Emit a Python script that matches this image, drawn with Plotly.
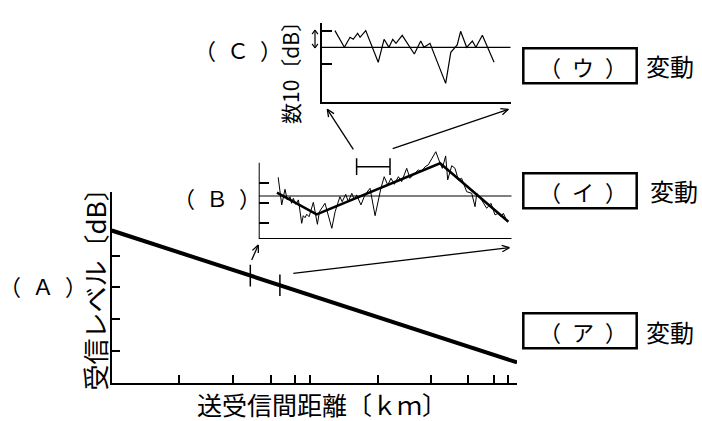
import math
import numpy as np
import plotly.graph_objects as go

W, H = 702, 421
FONT = "Noto Sans CJK JP"

# ---------------- data ----------------
# main panel (A): received level vs distance (schematic, arbitrary units)
main_dist = [0, 100]
main_level = [4.785, 0.65]
main_xticks = [16.5, 29.9, 39.3, 45.2, 48.9, 65.7, 78.8, 87.9, 94.3, 97.8]
main_yticks = [1, 2, 3, 4]
b_window = [34.2, 41.5]          # stretch of (A) magnified in (B)

# panel (B): short-interval variation
b_x = [7.7, 9.1, 10.4, 11.3, 12.4, 13.0, 13.7, 14.6, 15.7, 17.0, 17.6, 18.3, 19.0, 19.9,
       21.6, 23.2, 24.0, 26.2, 28.9, 30.2, 32.1, 33.0, 34.4, 35.4, 36.8, 37.8, 38.7, 40.4,
       42.0, 44.0, 46.0, 48.3, 49.6, 51.0, 52.3, 53.6, 55.2, 56.5, 58.5, 59.8, 61.1, 63.1,
       64.2, 65.8, 67.0, 70.0, 71.7, 72.6, 73.9, 74.7, 76.3, 77.6, 78.9, 80.2, 82.2, 84.2,
       85.5, 86.2, 88.1, 90.1, 91.8, 93.4, 94.7, 95.8, 96.7, 97.6]
b_y = [33.0, 19.2, 27.0, 21.7, 23.3, 20.0, 22.5, 19.5, 21.7, 10.0, 13.8, 12.8, 14.5, 13.3,
       20.5, 9.5, 15.8, 20.0, 7.5, 15.8, 23.3, 20.8, 24.5, 20.8, 25.0, 21.7, 24.2, 19.2,
       24.2, 27.5, 13.8, 27.5, 33.3, 29.2, 32.5, 29.5, 33.3, 30.8, 37.5, 32.5, 34.2, 36.7,
       35.8, 38.3, 39.2, 45.8, 40.0, 37.5, 43.7, 31.7, 38.8, 37.5, 31.7, 32.5, 25.8, 25.0,
       18.3, 25.0, 21.7, 17.5, 20.0, 14.2, 15.0, 13.3, 15.0, 12.5]
b_trend_x = [7.2, 22.9, 71.7, 98.7]
b_trend_y = [25.3, 14.5, 40.0, 10.8]
b_ref = 23.65
b_yticks = [10, 20, 30]
c_window = [38.7, 51.9]          # stretch of (B) magnified in (C)
c_window_level = 38.3

# panel (C): fast fading
c_x = [7.0, 12.0, 15.0, 16.7, 19.0, 20.3, 23.3, 29.9, 33.0, 35.6, 37.6, 39.3, 42.6,
       49.0, 52.4, 54.1, 57.3, 65.6, 68.3, 71.7, 73.5, 76.7, 79.7, 81.6, 85.0, 91.2]
c_y = [10.0, 0.0, 6.0, 4.8, 8.4, 6.0, 10.0, -9.0, 4.8, 0.0, 4.8, 2.4, 7.2,
       -4.0, 3.8, 0.0, 2.4, -21.6, -3.0, 1.4, 9.6, 0.0, 3.8, 0.0, 7.2, -9.0]
c_ref = 0
c_yticks = [-10, 10]

labels_box = ["（\u2002ウ\u2002）", "（\u2002イ\u2002）", "（\u2002ア\u2002）"]


def px(x):
    return x / W


def py(y):
    return 1 - y / H


fig = go.Figure()

# ---- main panel
fig.add_trace(go.Scatter(x=main_dist, y=main_level, mode="lines",
                         line=dict(color="black", width=4), xaxis="x", yaxis="y"))
for xv in b_window:
    yv = float(np.interp(xv, main_dist, main_level))
    fig.add_trace(go.Scatter(x=[xv, xv], y=[yv - 0.34, yv + 0.34], mode="lines",
                             line=dict(color="black", width=1.5), xaxis="x", yaxis="y"))

# ---- panel B
fig.add_trace(go.Scatter(x=[0, 100], y=[b_ref, b_ref], mode="lines",
                         line=dict(color="black", width=1.2), xaxis="x2", yaxis="y2"))
fig.add_trace(go.Scatter(x=b_x, y=b_y, mode="lines",
                         line=dict(color="black", width=1), xaxis="x2", yaxis="y2"))
fig.add_trace(go.Scatter(x=b_trend_x, y=b_trend_y, mode="lines",
                         line=dict(color="black", width=2.5), xaxis="x2", yaxis="y2"))
fig.add_trace(go.Scatter(
    x=[c_window[0], c_window[1], None, c_window[0], c_window[0], None, c_window[1], c_window[1]],
    y=[c_window_level, c_window_level, None, c_window_level - 4.2, c_window_level + 4.2, None,
       c_window_level - 4.2, c_window_level + 4.2],
    mode="lines", line=dict(color="black", width=1.5), xaxis="x2", yaxis="y2"))

# ---- panel C
fig.add_trace(go.Scatter(x=[0, 100], y=[c_ref, c_ref], mode="lines",
                         line=dict(color="black", width=1.2), xaxis="x3", yaxis="y3"))
fig.add_trace(go.Scatter(x=c_x, y=c_y, mode="lines",
                         line=dict(color="black", width=1.2), xaxis="x3", yaxis="y3"))

ax_common = dict(showgrid=False, zeroline=False, showticklabels=False,
                 ticks="inside", tickcolor="black", tickwidth=1.5)

b_ybot, b_ytop = 2.15, 49.15

fig.update_layout(
    width=W, height=H, autosize=False, showlegend=False,
    margin=dict(l=0, r=0, t=0, b=0),
    paper_bgcolor="white", plot_bgcolor="rgba(0,0,0,0)",
    xaxis=dict(domain=[px(111.7), px(517)], range=[0, 100], anchor="y",
               showline=True, linecolor="black", linewidth=2,
               tickvals=main_xticks, ticklen=8, **ax_common),
    yaxis=dict(domain=[py(383.2), py(191.7)], range=[0, 6], anchor="x",
               showline=True, linecolor="black", linewidth=2,
               tickvals=main_yticks, ticklen=8, **ax_common),
    xaxis2=dict(domain=[px(258.7), px(511.7)], range=[0, 100], anchor="y2",
                showline=False, tickvals=[], **ax_common),
    yaxis2=dict(domain=[py(239), py(145)], range=[b_ybot, b_ytop], anchor="x2",
                showline=False, tickvals=b_yticks, ticklen=10, **ax_common),
    xaxis3=dict(domain=[px(321.7), px(510.7)], range=[0, 100], anchor="y3",
                showline=True, linecolor="black", linewidth=2, tickvals=[], **ax_common),
    yaxis3=dict(domain=[py(101.7), py(23.3)], range=[-32.6, 14.4], anchor="x3",
                showline=True, linecolor="black", linewidth=2,
                tickvals=c_yticks, ticklen=10, **ax_common),
)

shapes = []
# panel B axis lines (y axis shorter than the drawing area)
shapes.append(dict(type="line", xref="x2", yref="y2", x0=0, x1=0, y0=b_ybot, y1=40.3,
                   line=dict(color="black", width=2)))
shapes.append(dict(type="line", xref="x2", yref="y2", x0=0, x1=100, y0=b_ybot, y1=b_ybot,
                   line=dict(color="black", width=2)))


def open_arrow(x0, y0, x1, y1, both=False, head=8, ang=24, width=1.3):
    out = [dict(type="line", xref="paper", yref="paper",
                x0=px(x0), y0=py(y0), x1=px(x1), y1=py(y1),
                line=dict(color="black", width=width))]
    ends = [(x1, y1, x0, y0)]
    if both:
        ends.append((x0, y0, x1, y1))
    for tx, ty, fx, fy in ends:
        dx, dy = fx - tx, fy - ty
        n = math.hypot(dx, dy)
        dx, dy = dx / n, dy / n
        for s in (1, -1):
            a = math.radians(ang) * s
            rx = dx * math.cos(a) - dy * math.sin(a)
            ry = dx * math.sin(a) + dy * math.cos(a)
            out.append(dict(type="line", xref="paper", yref="paper",
                            x0=px(tx), y0=py(ty), x1=px(tx + head * rx), y1=py(ty + head * ry),
                            line=dict(color="black", width=width)))
    return out


shapes += open_arrow(251.7, 260, 258.3, 245)
shapes += open_arrow(293.3, 273.3, 509.3, 247.7)
shapes += open_arrow(353.3, 149.3, 327.3, 109.3)
shapes += open_arrow(392.7, 148.7, 508.3, 109.3)
shapes += open_arrow(315, 30, 315, 48, both=True, head=5, ang=35, width=1.2)

# boxes on the right
for top, bot in [(48.3, 83.3), (173.3, 208.3), (313.3, 348.3)]:
    shapes.append(dict(type="rect", xref="paper", yref="paper",
                       x0=px(523.3), x1=px(636.7), y0=py(bot), y1=py(top),
                       line=dict(color="black", width=2.5)))
fig.update_layout(shapes=shapes)

ann = []


def text(x, y, s, size, angle=0):
    ann.append(dict(x=px(x), y=py(y), xref="paper", yref="paper", text=s,
                    showarrow=False, textangle=angle, xanchor="center", yanchor="middle",
                    font=dict(family=FONT, size=size, color="black")))


text(43, 285, "（\u2002Ａ\u2002）", 22)
text(216.7, 196.5, "（\u2002Ｂ\u2002）", 22)
text(238, 49, "（\u2002Ｃ\u2002）", 22)
text(93.5, 283, "受信レベル〔dB〕", 26, -90)
text(290, 68, "数10〔dB〕", 21, -90)
text(322, 404, "送受信間距離〔ｋｍ〕", 25)
for lab, yc, xc in zip(labels_box, [66, 191, 331], [670, 674, 670]):
    text(582.5, yc, lab, 22)
    text(xc, yc, "変動", 24)

fig.update_layout(annotations=ann)
fig.write_html("out.html", config={"displayModeBar": False},
               post_script="document.body.style.margin='0';document.body.style.padding='0';"
                           "document.body.style.overflow='hidden';")
